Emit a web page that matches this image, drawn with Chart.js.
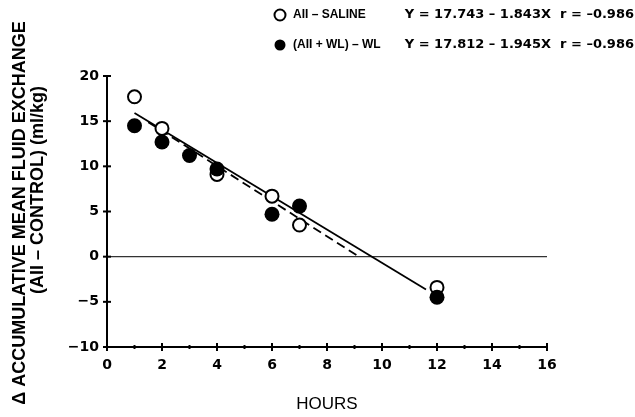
<!DOCTYPE html>
<html>
<head>
<meta charset="utf-8">
<script src="https://cdn.jsdelivr.net/npm/chart.js@4.4.1/dist/chart.umd.min.js"></script>
<style>
  html, body { margin: 0; padding: 0; background: #fff; }
</style>
</head>
<body>
<canvas id="fluidChart" width="635" height="417"></canvas>
<script>
/* ---- data ---- */
const seriesNames = ["AII – SALINE", "(AII + WL) – WL"];
const salineHours = [1, 2, 4, 6, 7, 12];
const salineValues = [17.7, 14.2, 9.1, 6.7, 3.5, -3.4];
const wlHours = [1, 2, 3, 4, 6, 7, 12];
const wlValues = [14.5, 12.7, 11.2, 9.7, 4.7, 5.6, -4.5];
// regression lines: Y = a + bX
const fitIntercepts = [17.743, 17.812];
const fitSlopes = [-1.843, -1.945];
const fitRValues = [-0.986, -0.986];
const fitFrom = [1, 1.5];
const fitTo = [11.6, 9.2];
// axes
const xMin = 0, xMax = 16, xStep = 2;
const yMin = -10, yMax = 20, yStep = 5;

const toPoints = (xs, ys) => xs.map((x, i) => ({ x: x, y: ys[i] }));
const fitLine = (i) => [fitFrom[i], fitTo[i]].map((x) => ({ x: x, y: fitIntercepts[i] + fitSlopes[i] * x }));
const equation = (i) =>
  "Y = " + fitIntercepts[i].toFixed(3) + " – " + Math.abs(fitSlopes[i]).toFixed(3) + "X  r = –" + Math.abs(fitRValues[i]).toFixed(3);
const tickFont = { family: "DejaVu Sans", weight: "bold", size: 14 };

/* ---- tick crosses, y title and legend ---- */
const decor = {
  id: "decor",
  afterDraw(chart) {
    const { ctx, scales: { x, y } } = chart;
    ctx.save();
    ctx.strokeStyle = "#000";
    ctx.lineWidth = 2;
    const axisY = y.getPixelForValue(yMin);
    for (let h = xMin; h <= xMax; h++) {
      const px = x.getPixelForValue(h);
      const len = h % xStep === 0 ? 4 : 2;
      ctx.beginPath();
      ctx.moveTo(px, axisY - len);
      ctx.lineTo(px, axisY + len);
      ctx.stroke();
    }
    const axisX = x.getPixelForValue(xMin);
    for (let v = yMin; v <= yMax; v += yStep) {
      const py = y.getPixelForValue(v);
      ctx.beginPath();
      ctx.moveTo(axisX - 4, py);
      ctx.lineTo(axisX + 4, py);
      ctx.stroke();
    }

    // y axis title, two rotated lines
    ctx.fillStyle = "#000";
    ctx.textAlign = "center";
    ctx.textBaseline = "middle";
    ctx.font = "bold 18px 'Liberation Sans'";
    ctx.save();
    ctx.translate(20, 213);
    ctx.rotate(-Math.PI / 2);
    ctx.fillText("Δ ACCUMULATIVE MEAN FLUID EXCHANGE", 0, 0);
    ctx.restore();
    ctx.save();
    ctx.translate(38, 190);
    ctx.rotate(-Math.PI / 2);
    ctx.fillText("(AII – CONTROL) (ml/kg)", 0, 0);
    ctx.restore();

    // legend with fit equations
    const rows = [15, 45];
    rows.forEach((ry, i) => {
      ctx.beginPath();
      ctx.arc(280, ry, 5.5, 0, Math.PI * 2);
      if (i === 0) {
        ctx.fillStyle = "#fff";
        ctx.fill();
        ctx.lineWidth = 2;
        ctx.stroke();
      } else {
        ctx.fillStyle = "#000";
        ctx.fill();
      }
      ctx.fillStyle = "#000";
      ctx.textAlign = "left";
      ctx.font = "bold 12px 'Liberation Sans'";
      ctx.fillText(seriesNames[i], 293, ry);
      ctx.textAlign = "right";
      ctx.font = "bold 13px 'DejaVu Sans'";
      ctx.fillText(equation(i), 634, ry);
    });
    ctx.restore();
  }
};

new Chart(document.getElementById("fluidChart"), {
  type: "scatter",
  plugins: [decor],
  data: {
    datasets: [
      {
        label: seriesNames[1],
        data: toPoints(wlHours, wlValues),
        pointRadius: 7.5,
        pointBackgroundColor: "#000",
        pointBorderColor: "#000",
        pointBorderWidth: 0,
        order: 0
      },
      {
        label: seriesNames[0],
        data: toPoints(salineHours, salineValues),
        pointRadius: 6.5,
        pointBackgroundColor: "#fff",
        pointBorderColor: "#000",
        pointBorderWidth: 2,
        order: 1
      },
      {
        type: "line",
        data: fitLine(0),
        borderColor: "#000",
        borderWidth: 1.8,
        pointRadius: 0,
        order: 2
      },
      {
        type: "line",
        data: fitLine(1),
        borderColor: "#000",
        borderWidth: 1.8,
        borderDash: [9, 5],
        pointRadius: 0,
        order: 3
      },
      {
        type: "line",
        data: [{ x: xMin, y: 0 }, { x: xMax, y: 0 }],
        borderColor: "#333",
        borderWidth: 1.3,
        pointRadius: 0,
        order: 4
      }
    ]
  },
  options: {
    responsive: false,
    animation: false,
    clip: false,
    layout: { padding: { top: 76, right: 88, left: 0, bottom: 0 } },
    plugins: { legend: { display: false }, tooltip: { enabled: false } },
    scales: {
      x: {
        min: xMin,
        max: xMax,
        afterFit: (s) => { s.height = 70; },
        grid: { display: false, drawTicks: false },
        border: { display: true, color: "#000", width: 2 },
        ticks: { stepSize: xStep, color: "#000", font: tickFont, padding: 10 },
        title: {
          display: true,
          text: "HOURS",
          color: "#000",
          font: { family: "Liberation Sans", size: 17 },
          padding: { top: 0, bottom: 2 }
        }
      },
      y: {
        min: yMin,
        max: yMax,
        afterFit: (s) => { s.width = 107; },
        grid: { display: false, drawTicks: false },
        border: { display: true, color: "#000", width: 2 },
        ticks: {
          stepSize: yStep,
          color: "#000",
          font: tickFont,
          padding: 8,
          callback: (v) => (v < 0 ? "\u2212" + Math.abs(v) : String(v))
        }
      }
    }
  }
});
</script>
</body>
</html>
